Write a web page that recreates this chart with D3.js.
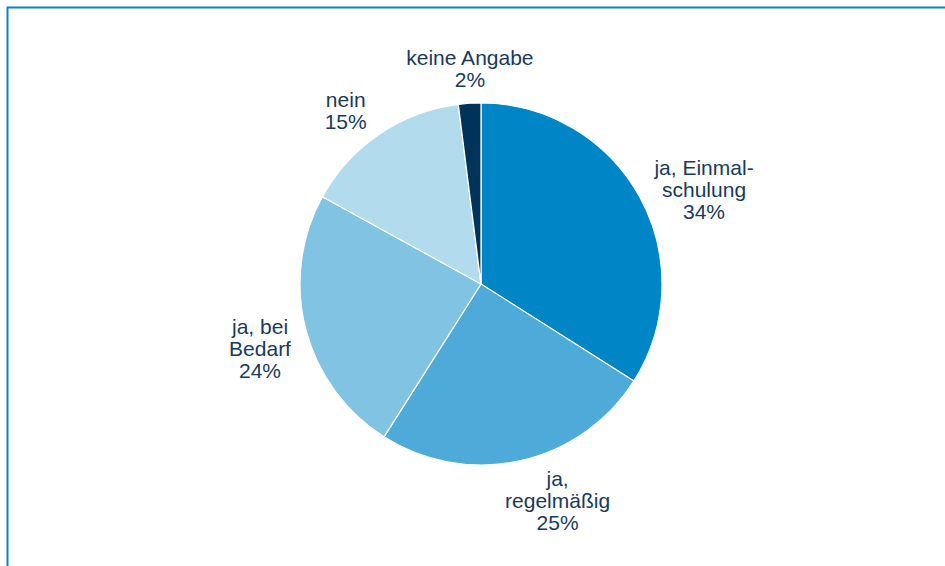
<!DOCTYPE html>
<html>
<head>
<meta charset="utf-8">
<script src="https://cdn.jsdelivr.net/npm/d3@7"></script>
<style>
  body { margin: 0; background: #fff; }
  svg { display: block; }
</style>
</head>
<body>
<div id="chart"></div>
<script>
// pie chart data
var labels = [["ja, Einmal-", "schulung"], ["ja,", "regelmäßig"], ["ja, bei", "Bedarf"], ["nein"], ["keine Angabe"]];
var values = [34, 25, 24, 15, 2];
var colors = ["#0086c6", "#4eaad8", "#80c3e3", "#b3dbee", "#00335a"];

// hand placed label shifts (as in the original chart)
var labelNudge = [[10, 15], [23, -5], [-4, 8], [-15, 5], [5, 0]];

var width = 945, height = 566;
var cx = 481, cy = 284, radius = 181;

var svg = d3.select("#chart")
    .append("svg")
        .attr("width", width)
        .attr("height", height);

// frame (only top + left edge visible)
svg.append("path")
    .attr("d", "M7.5," + height + "V7.5H" + width)
    .attr("fill", "none")
    .attr("stroke", "#0a86c6")
    .attr("stroke-width", 2);

var data = values.map(function(v, i) { return {value: v, label: labels[i], color: colors[i]}; });

var pie = d3.pie()
    .sort(null)
    .value(function(d) { return d.value; });

var arc = d3.arc()
    .innerRadius(0)
    .outerRadius(radius);

var g = svg.append("g")
    .attr("transform", "translate(" + cx + "," + cy + ")");

var arcs = pie(data);

g.selectAll("path.slice")
    .data(arcs)
    .enter()
    .append("path")
        .attr("class", "slice")
        .attr("d", arc)
        .attr("fill", function(d) { return d.data.color; })
        .attr("stroke", "#fff")
        .attr("stroke-width", 1.2);

// labels outside end
var lineH = 22, gap = 12;
arcs.forEach(function(d, k) {
    var lines = d.data.label.concat([d.data.value + "%"]);
    var t = g.append("text")
        .attr("font-family", "'Liberation Sans', Arial, sans-serif")
        .attr("font-size", 21)
        .attr("fill", "#173a5e")
        .attr("text-anchor", "middle");
    lines.forEach(function(l, i) {
        t.append("tspan").attr("x", 0).attr("y", i * lineH).text(l);
    });
    var bb = t.node().getBBox();
    var a = (d.startAngle + d.endAngle) / 2;
    var s = Math.sin(a), c = Math.cos(a);
    var px = s * (radius + gap), py = -c * (radius + gap);
    var mx = px + s * bb.width / 2 + labelNudge[k][0],
        my = py - c * bb.height / 2 + labelNudge[k][1];
    var offY = bb.y + bb.height / 2;
    t.attr("transform", "translate(" + mx + "," + (my - offY) + ")");
});
</script>
</body>
</html>
